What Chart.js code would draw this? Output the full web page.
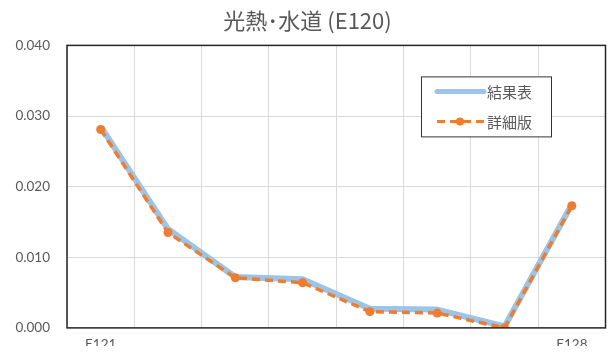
<!DOCTYPE html>
<html>
<head>
<meta charset="utf-8">
<script src="https://cdn.jsdelivr.net/npm/chart.js@4/dist/chart.umd.min.js"></script>
<style>
  html, body { margin: 0; padding: 0; background: #fff; }
  #wrap { width: 610px; height: 353px; }
</style>
</head>
<body>
<div id="wrap"><canvas id="c" width="610" height="353"></canvas></div>
<script>
const categories = ['E121', 'E122', 'E123', 'E124', 'E125', 'E126', 'E127', 'E128'];
const resultTable = [0.0285, 0.0140, 0.0072, 0.0069, 0.0027, 0.0026, 0.0002, 0.0175];
const detailVersion = [0.0281, 0.0135, 0.0071, 0.0064, 0.0023, 0.0021, 0.0000, 0.0173];
const seriesNames = ['結果表', '詳細版'];
const chartTitle = '光熱･水道 (E120)';

const JP = '"Noto Sans CJK JP", "Noto Sans", sans-serif';
const NUM = 'Lato, "Liberation Sans", sans-serif';
const GREY = '#595959';

// Frame around the plot area plus a boxed legend inside the upper right.
const framePlugin = {
  id: 'frameAndLegend',
  afterDatasetsDraw(chart) {
    const { ctx, chartArea: a } = chart;
    ctx.save();
    ctx.strokeStyle = '#262626';
    ctx.lineWidth = 1.5;
    ctx.strokeRect(a.left, a.top, a.right - a.left, a.bottom - a.top);

    const bx = a.left + 354, by = a.top + 31, bw = 130, bh = 60;
    ctx.fillStyle = '#fff';
    ctx.fillRect(bx, by, bw, bh);
    ctx.strokeStyle = '#333';
    ctx.lineWidth = 1;
    ctx.strokeRect(bx + 0.5, by + 0.5, bw, bh);

    const ds = chart.data.datasets;
    // entry 1: solid light-blue line
    let y = by + 15;
    ctx.strokeStyle = ds[0].borderColor;
    ctx.lineWidth = 5;
    ctx.lineCap = 'round';
    ctx.beginPath(); ctx.moveTo(bx + 16, y); ctx.lineTo(bx + 63, y); ctx.stroke();
    ctx.fillStyle = GREY;
    ctx.font = '15px ' + JP;
    ctx.textBaseline = 'middle';
    ctx.fillText(ds[0].label, bx + 66, y + 1);

    // entry 2: dashed orange line with a dot marker
    y = by + 45;
    ctx.strokeStyle = ds[1].borderColor;
    ctx.lineWidth = 3;
    ctx.lineCap = 'butt';
    ctx.setLineDash([8, 5]);
    ctx.beginPath(); ctx.moveTo(bx + 16, y); ctx.lineTo(bx + 63, y); ctx.stroke();
    ctx.setLineDash([]);
    ctx.fillStyle = ds[1].pointBackgroundColor;
    ctx.beginPath(); ctx.arc(bx + 39, y, 4, 0, Math.PI * 2); ctx.fill();
    ctx.fillStyle = GREY;
    ctx.fillText(ds[1].label, bx + 66, y + 1);
    ctx.restore();
  }
};

new Chart(document.getElementById('c'), {
  type: 'line',
  data: {
    labels: categories,
    datasets: [
      {
        label: seriesNames[0],
        data: resultTable,
        borderColor: '#9DC3E6',
        backgroundColor: '#9DC3E6',
        borderWidth: 6,
        pointRadius: 0,
        tension: 0,
        borderJoinStyle: 'round',
        order: 2
      },
      {
        label: seriesNames[1],
        data: detailVersion,
        borderColor: '#ED7D31',
        backgroundColor: '#ED7D31',
        pointBackgroundColor: '#ED7D31',
        pointBorderWidth: 0,
        borderWidth: 3.5,
        borderDash: [8, 5],
        pointRadius: 4.5,
        tension: 0,
        order: 1
      }
    ]
  },
  options: {
    responsive: false,
    animation: false,
    devicePixelRatio: 1,
    layout: { padding: { left: 0, right: -5, top: 0, bottom: 0 } },
    plugins: {
      legend: { display: false },
      tooltip: { enabled: false },
      title: {
        display: true,
        text: chartTitle,
        color: GREY,
        font: { family: JP, size: 22, weight: 'normal' },
        padding: { top: 7, bottom: 12 }
      }
    },
    scales: {
      x: {
        offset: true,
        grid: { offset: true, color: '#d9d9d9', drawTicks: false },
        border: { display: false },
        ticks: {
          color: GREY,
          font: { family: NUM, size: 13.5 },
          padding: 9,
          autoSkip: false,
          maxRotation: 0,
          callback(v, i, ticks) {
            return (i === 0 || i === ticks.length - 1) ? this.getLabelForValue(v) : '';
          }
        },
        afterFit(s) { s.height = 18; }
      },
      y: {
        min: 0,
        max: 0.04,
        grid: { color: '#d9d9d9', drawTicks: false },
        border: { display: false },
        ticks: {
          stepSize: 0.01,
          color: GREY,
          font: { family: NUM, size: 13.5 },
          padding: 17,
          callback: v => v.toFixed(3)
        },
        afterFit(s) { s.width = 67; }
      }
    }
  },
  plugins: [framePlugin]
});
</script>
</body>
</html>
